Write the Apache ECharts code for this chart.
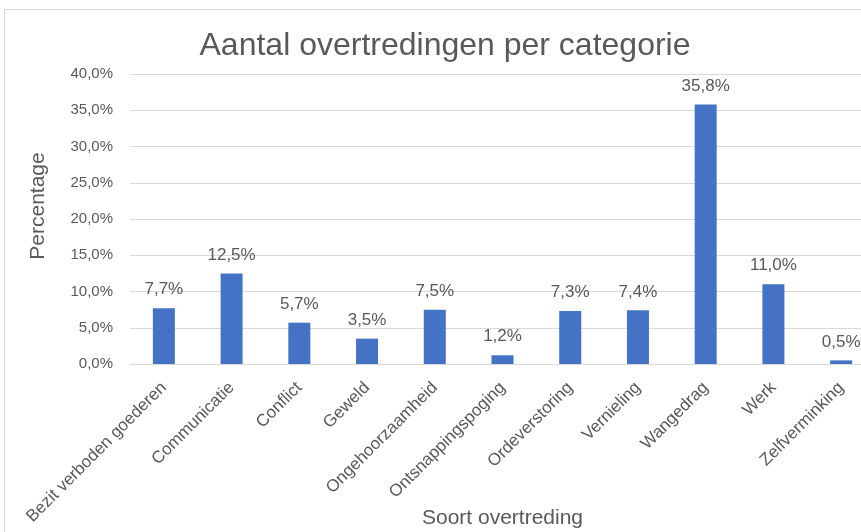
<!DOCTYPE html>
<html>
<head>
<meta charset="utf-8">
<script src="https://cdn.jsdelivr.net/npm/echarts@6/dist/echarts.min.js"></script>
<style>
  html, body { margin: 0; padding: 0; background: #fff; }
  #chart { width: 861px; height: 532px; }
</style>
</head>
<body>
<div id="chart"></div>
<script>
// categorieen en percentages
const categories = ['Bezit verboden goederen', 'Communicatie', 'Conflict', 'Geweld', 'Ongehoorzaamheid',
  'Ontsnappingspoging', 'Ordeverstoring', 'Vernieling', 'Wangedrag', 'Werk', 'Zelfverminking']
const percentages = [7.7, 12.5, 5.7, 3.5, 7.5, 1.2, 7.3, 7.4, 35.8, 11.0, 0.5]
const yTicks = [0, 5, 10, 15, 20, 25, 30, 35, 40]

const textColor = '#595959'
const font = 'Liberation Sans, Arial, sans-serif'
const pct = v => v.toFixed(1).replace('.', ',') + '%'

const chart = echarts.init(document.getElementById('chart'))
chart.setOption({
  animation: false,
  textStyle: { fontFamily: font },
  title: {
    text: 'Aantal overtredingen per categorie',
    left: 440,
    textAlign: 'center',
    top: 25,
    textStyle: { color: textColor, fontSize: 32, fontWeight: 'normal', fontFamily: font }
  },
  graphic: [{
    type: 'rect',
    shape: { x: 4.5, y: 9.5, width: 900, height: 600 },
    style: { fill: 'none', stroke: '#d9d9d9', lineWidth: 1 },
    silent: true
  }],
  // plot loopt rechts buiten beeld door (uitsnede)
  grid: { left: 130, width: 745, top: 74, bottom: 168, containLabel: false, outerBoundsMode: 'none' },
  xAxis: {
    type: 'category',
    data: categories,
    name: 'Soort overtreding',
    nameLocation: 'middle',
    nameGap: 144,
    nameMoveOverlap: false,
    nameTextStyle: { color: textColor, fontSize: 21 },
    axisTick: { show: false },
    axisLine: { lineStyle: { color: '#d9d9d9' } },
    axisLabel: { rotate: 45, margin: 21, color: textColor, fontSize: 17, interval: 0 }
  },
  yAxis: {
    type: 'value',
    min: yTicks[0],
    max: yTicks[yTicks.length - 1],
    interval: 5,
    name: 'Percentage',
    nameLocation: 'middle',
    nameGap: 81,
    nameTextStyle: { color: textColor, fontSize: 21, padding: [0, 0, 0, 26] },
    axisLine: { show: false },
    axisTick: { show: false },
    axisLabel: { margin: 17, color: textColor, fontSize: 15, formatter: pct },
    splitLine: { lineStyle: { color: '#d9d9d9' } }
  },
  series: [{
    type: 'bar',
    data: percentages,
    barWidth: 22,
    itemStyle: { color: '#4472c4' },
    label: {
      show: true,
      position: 'top',
      distance: 10,
      color: textColor,
      fontSize: 17,
      formatter: p => pct(p.value)
    }
  }]
})
</script>
</body>
</html>
